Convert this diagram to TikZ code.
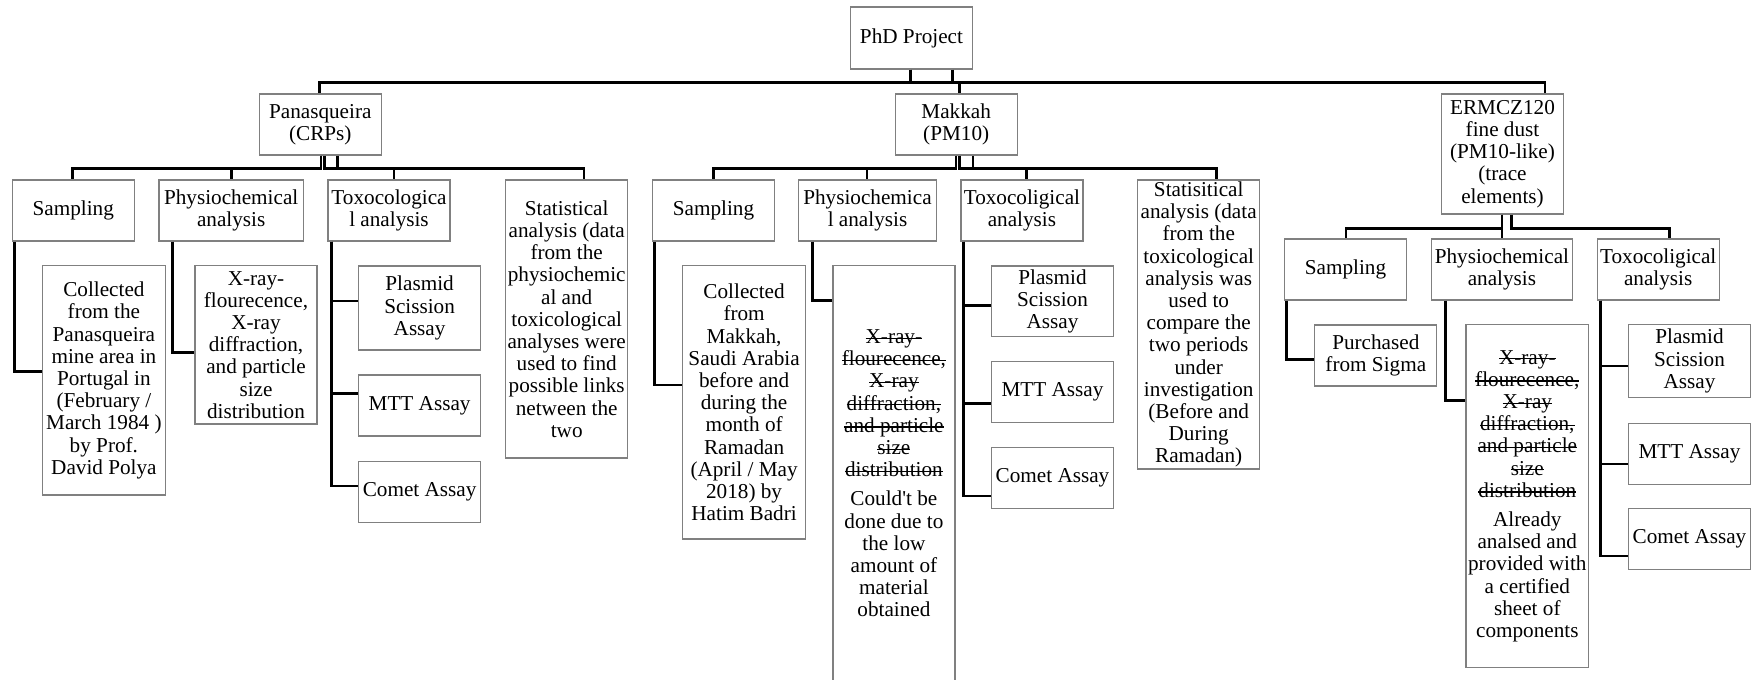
\documentclass[tikz,border=0pt]{standalone}
\usepackage{fontspec}
\setmainfont{Liberation Serif}
\definecolor{boxgray}{RGB}{128,128,128}
\newsavebox{\struckbox}
\newcommand{\struck}[1]{\sbox{\struckbox}{#1}\rlap{\rule[4.8pt]{\wd\struckbox}{1.1pt}}\usebox{\struckbox}}

\begin{document}
\begin{tikzpicture}[x=1pt, y=-1pt, align=center, font=\fontsize{21.2}{22.2}\selectfont]
	% Node styles
	\tikzstyle{chartbox} = [rectangle, draw=boxgray, line width=1.2pt, inner sep=0pt, minimum width=122pt, minimum height=61pt]
	\tikzstyle{connector} = [line width=2.8pt, black]
	
	% Canvas
	\useasboundingbox (0,0) rectangle (1751,680);
	\clip (0,0) rectangle (1751,680);
	
	% Nodes
	\node[chartbox, minimum height=62pt] (phdProject) at (911.5,38) {PhD Project};
	\node[chartbox] (panasqueira) at (320.3,124.5) {Panasqueira\\(CRPs)};
	\node[chartbox] (makkah) at (956.2,124.5) {Makkah\\(PM10)};
	\node[chartbox, minimum height=120pt] (ermcz) at (1502.5,154) {ERMCZ120\\fine dust\\(PM10-like)\\(trace\\elements)};
	
	% Panasqueira
	\node[chartbox] (panSampling) at (73.3,210.5) {Sampling};
	\node[chartbox, minimum width=144.5pt] (panPhysio) at (231.2,210.5) {Physiochemical\\analysis};
	\node[chartbox] (panToxo) at (389,210.5) {Toxocologica\\l analysis};
	\node[chartbox, minimum height=278pt] (panStats) at (566.7,319) {Statistical\\analysis (data\\from the\\physiochemic\\al and\\toxicological\\analyses were\\used to find\\possible links\\netween the\\two};
	\node[chartbox, minimum width=122.8pt, minimum height=229.3pt] (panCollected) at (103.9,380.4) {Collected\\from the\\Panasqueira\\mine area in\\Portugal in\\(February /\\March 1984 )\\by Prof.\\David Polya};
	\node[chartbox, minimum height=158.3pt] (panXray) at (256,344.9) {X-ray-\\flourecence,\\X-ray\\diffraction,\\and particle\\size\\distribution};
	\node[chartbox, minimum height=84pt] (panPlasmid) at (419.6,308) {Plasmid\\Scission\\Assay};
	\node[chartbox] (panMtt) at (419.6,405.5) {MTT Assay};
	\node[chartbox] (panComet) at (419.6,492.2) {Comet Assay};
	
	% Makkah
	\node[chartbox] (makSampling) at (713.5,210.5) {Sampling};
	\node[chartbox, minimum width=137.8pt] (makPhysio) at (867.5,210.5) {Physiochemica\\l analysis};
	\node[chartbox] (makToxo) at (1021.9,210.5) {Toxocoligical\\analysis};
	\node[chartbox, minimum height=289pt] (makStats) at (1198.7,324.5) {Statisitical\\analysis (data\\from the\\toxicological\\analysis was\\used to\\compare the\\two periods\\under\\investigation\\(Before and\\During\\Ramadan)};
	\node[chartbox, minimum width=122.8pt, minimum height=273.3pt] (makCollected) at (744.1,402.4) {Collected\\from\\Makkah,\\Saudi Arabia\\before and\\during the\\month of\\Ramadan\\(April / May\\2018) by\\Hatim Badri};
	\node[chartbox, minimum height=415.3pt] (makNote) at (893.9,473.4) {\struck{X-ray-}\\\struck{flourecence,}\\\struck{X-ray}\\\struck{diffraction,}\\\struck{and particle}\\\struck{size}\\\struck{distribution}\\[7pt]Could\textquotesingle t be\\done due to\\the low\\amount of\\material\\obtained};
	\node[chartbox, minimum height=70.7pt] (makPlasmid) at (1052.5,301.3) {Plasmid\\Scission\\Assay};
	\node[chartbox] (makMtt) at (1052.5,392.2) {MTT Assay};
	\node[chartbox] (makComet) at (1052.5,477.8) {Comet Assay};
	
	% ERMCZ120
	\node[chartbox] (ermSampling) at (1345.5,269.5) {Sampling};
	\node[chartbox, minimum width=141.2pt] (ermPhysio) at (1501.9,269.5) {Physiochemical\\analysis};
	\node[chartbox] (ermToxo) at (1658.2,269.5) {Toxocoligical\\analysis};
	\node[chartbox] (ermPurchased) at (1375.8,355.4) {Purchased\\from Sigma};
	\node[chartbox, minimum width=122.6pt, minimum height=343pt] (ermNote) at (1527.3,496.2) {\struck{X-ray-}\\\struck{flourecence,}\\\struck{X-ray}\\\struck{diffraction,}\\\struck{and particle}\\\struck{size}\\\struck{distribution}\\[7pt]Already\\analsed and\\provided with\\a certified\\sheet of\\components};
	\node[chartbox, minimum height=73.4pt] (ermPlasmid) at (1689.5,361) {Plasmid\\Scission\\Assay};
	\node[chartbox] (ermMtt) at (1689.5,453.7) {MTT Assay};
	\node[chartbox] (ermComet) at (1689.5,538.8) {Comet Assay};
	
	% Lines
	\draw[connector] ([xshift=-0.8pt]phdProject.south) -- ++(0,13) -| ([xshift=-0.8pt]panasqueira.north);
	\draw[connector] ([xshift=-0.8pt]phdProject.south) -- ++(0,13) -| ([xshift=3.5pt]makkah.north);
	\draw[connector] ([xshift=41.3pt]phdProject.south) -- ++(0,13) -| ([xshift=42.5pt]ermcz.north);
	
	\draw[connector] ([xshift=0.7pt]panasqueira.south) -- ++(0,13) -| ([xshift=-0.6pt]panSampling.north);
	\draw[connector] ([xshift=0.7pt]panasqueira.south) -- ++(0,13) -| (panPhysio.north);
	\draw[connector] ([xshift=4.2pt]panasqueira.south) -- ++(0,13) -| ([xshift=5pt]panToxo.north);
	\draw[connector] ([xshift=17.2pt]panasqueira.south) -- ++(0,13) -| ([xshift=17.3pt]panStats.north);
	
	\draw[connector] ([xshift=-0.2pt]makkah.south) -- ++(0,13) -| ([xshift=0.2pt]makSampling.north);
	\draw[connector] ([xshift=-0.2pt]makkah.south) -- ++(0,13) -| ([xshift=-0.5pt]makPhysio.north);
	\draw[connector] ([xshift=3.5pt]makkah.south) -- ++(0,13) -| ([xshift=4.8pt]makToxo.north);
	\draw[connector] ([xshift=16.8pt]makkah.south) -- ++(0,13) -| ([xshift=17.8pt]makStats.north);
	
	\draw[connector] ([xshift=-0.5pt]ermcz.south) -- ++(0,13.7) -| ([xshift=0.5pt]ermSampling.north);
	\draw[connector] ([xshift=-0.5pt]ermcz.south) -- ++(0,13.7) -| (ermPhysio.north);
	\draw[connector] ([xshift=9.2pt]ermcz.south) -- ++(0,13.7) -| ([xshift=11.5pt]ermToxo.north);
	
	\draw[connector] ([xshift=2.7pt]panSampling.south west) |- ([yshift=9pt]panCollected.west);
	\draw[connector] ([xshift=14.4pt]panPhysio.south west) |- ([yshift=-7.4pt]panXray.west);
	\draw[connector] ([xshift=4.3pt]panToxo.south west) |- ([yshift=7pt]panPlasmid.west);
	\draw[connector] ([xshift=4.3pt]panToxo.south west) |- ([yshift=12.2pt]panMtt.west);
	\draw[connector] ([xshift=4.3pt]panToxo.south west) |- ([yshift=6.2pt]panComet.west);
	
	\draw[connector] ([xshift=2.3pt]makSampling.south west) |- ([yshift=17.4pt]makCollected.west);
	\draw[connector] ([xshift=14.6pt]makPhysio.south west) |- ([yshift=-35pt]makNote.north west);
	\draw[connector] ([xshift=3pt]makToxo.south west) |- ([yshift=-4.4pt]makPlasmid.west);
	\draw[connector] ([xshift=3pt]makToxo.south west) |- ([yshift=-11.1pt]makMtt.west);
	\draw[connector] ([xshift=3pt]makToxo.south west) |- ([yshift=-18.2pt]makComet.west);
	
	\draw[connector] ([xshift=2.3pt]ermSampling.south west) |- ([yshift=-3.9pt]ermPurchased.west);
	\draw[connector] ([xshift=14.5pt]ermPhysio.south west) |- ([yshift=-76.6pt]ermNote.north west);
	\draw[connector] ([xshift=3.5pt]ermToxo.south west) |- ([yshift=-5pt]ermPlasmid.west);
	\draw[connector] ([xshift=3.5pt]ermToxo.south west) |- ([yshift=-10.3pt]ermMtt.west);
	\draw[connector] ([xshift=3.5pt]ermToxo.south west) |- ([yshift=-17.2pt]ermComet.west);
\end{tikzpicture}
\end{document}
